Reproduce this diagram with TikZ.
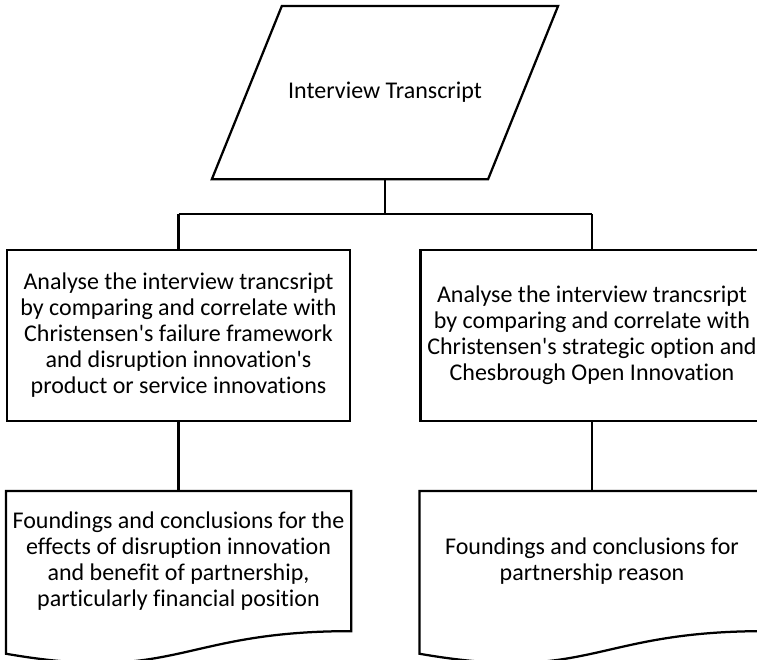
\documentclass[tikz,border=0pt]{standalone}
\usepackage{fontspec}
\setmainfont{Carlito}[Ligatures=NoCommon]
\usetikzlibrary{calc}

\begin{document}
\begin{tikzpicture}[x=1pt, y=-1pt, line width=2.25pt, line join=miter,
    txt/.style={font=\fontsize{24}{26}\selectfont, align=center, inner sep=0pt},
    stepbox/.style={txt, draw, minimum width=343, minimum height=171},
    docbox/.style={txt, minimum width=343, minimum height=138}]
        \useasboundingbox (0,0) rectangle (757,659);
        % Sizes
        \def\slant{70}    % horizontal offset of the parallelogram
        \def\wave{22.6}   % drop of the document edge on the left
        \def\ctrl{52.5}   % lower control point of the document edge
        \def\q{\textquotesingle}
        % Input: parallelogram (outline drawn from the node anchors)
        \node[txt, minimum width=344, minimum height=171] (transcript) at (385,92.5) {Interview Transcript};
        \draw ([xshift=\slant]transcript.north west) -- (transcript.north east)
            -- ([xshift=-\slant]transcript.south east) -- (transcript.south west) -- cycle;
        % Analysis steps
        \node[stepbox] (analyseA) at (178.5,335.5) {Analyse the interview trancsript\\by comparing and correlate with\\Christensen\q s failure framework\\and disruption innovation\q s\\product or service innovations};
        \node[stepbox] (analyseB) at (592,335.5) {Analyse the interview trancsript\\by comparing and correlate with\\Christensen\q s strategic option and\\Chesbrough Open Innovation};
        % Findings: documents with a wavy bottom edge
        \node[docbox] (findA) at (178.5,561) {Foundings and conclusions for the\\effects of disruption innovation\\and benefit of partnership,\\particularly financial position};
        \node[docbox] (findB) at (592,561) {Foundings and conclusions for\\partnership reason};
        \foreach \d in {findA, findB} {
            \draw (\d.north west) -- (\d.north east) -- (\d.south east)
                .. controls (\d.south) and ($(\d.south)+(0,\ctrl)$) .. ($(\d.south west)+(0,\wave)$) -- cycle;
        }
        % Connectors
        \coordinate (bus) at ($(transcript.south)+(0,35)$);
        \draw (transcript.south) -- (bus);
        \draw (bus -| analyseA.north) -- (bus -| analyseB.north);
        \draw (bus -| analyseA.north) -- (analyseA.north);
        \draw (bus -| analyseB.north) -- (analyseB.north);
        \draw (analyseA.south) -- (findA.north);
        \draw (analyseB.south) -- (findB.north);
\end{tikzpicture}
\end{document}
